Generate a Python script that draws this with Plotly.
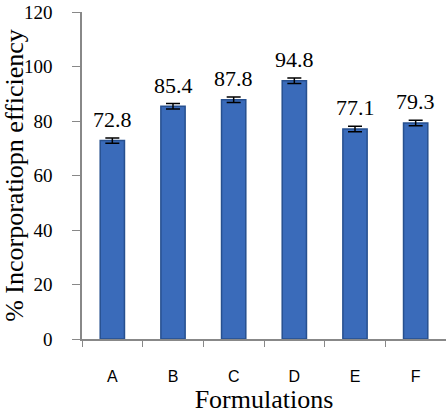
import plotly.graph_objects as go

categories = ["A", "B", "C", "D", "E", "F"]
values = [72.8, 85.4, 87.8, 94.8, 77.1, 79.3]
errors = [1.0, 1.0, 1.0, 1.0, 1.0, 1.0]
labels = ["72.8", "85.4", "87.8", "94.8", "77.1", "79.3"]

serif = "'Times New Roman', 'Liberation Serif', serif"
sans = "Arial, 'Liberation Sans', sans-serif"

fig = go.Figure()
fig.add_trace(go.Bar(
    x=categories, y=values, width=0.4,
    marker=dict(color="#3A6BBA", line=dict(color="#27508F", width=1.5)),
    error_y=dict(type="data", array=errors, color="black", thickness=1.5, width=7),
    hoverinfo="skip",
))

for c, v, t in zip(categories, values, labels):
    fig.add_annotation(x=c, y=v, text=t, showarrow=False, yanchor="middle", yshift=21,
                       font=dict(family=serif, size=22, color="black"))

fig.update_layout(
    width=446, height=414,
    margin=dict(l=82, r=0, t=12, b=75),
    paper_bgcolor="white", plot_bgcolor="white",
    showlegend=False, bargap=0.6,
    font=dict(family=serif),
)
fig.update_xaxes(
    type="category", tickson="boundaries", ticks="outside", ticklen=6, tickcolor="#888",
    showline=True, linecolor="#888", linewidth=1.5, showgrid=False,
    tickfont=dict(family=sans, size=16, color="black"), ticklabelstandoff=22,
    title=dict(text="Formulations", font=dict(family=serif, size=26, color="black"), standoff=0),
)
fig.update_yaxes(
    range=[0, 120], dtick=20,
    ticks="outside", ticklen=8, tickcolor="#888",
    showline=True, linecolor="#888", linewidth=1.5, showgrid=False, zeroline=False,
    tickfont=dict(family=serif, size=19, color="black"), ticklabelstandoff=16,
    title=dict(text="% Incorporatiopn efficiency", font=dict(family=serif, size=26, color="black"), standoff=4),
)

fig.write_html("out.html")
